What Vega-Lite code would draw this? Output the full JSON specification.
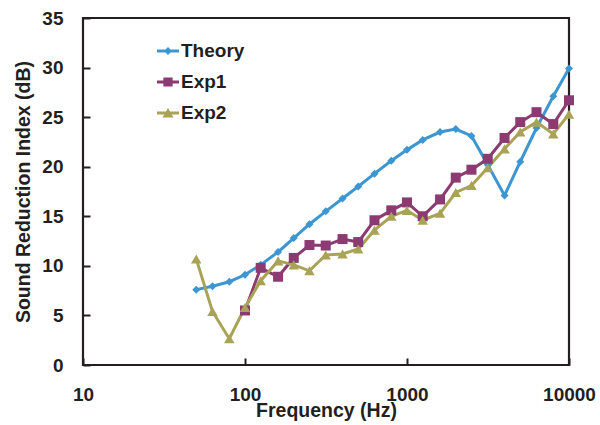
{
  "$schema": "https://vega.github.io/schema/vega-lite/v6.json",
  "autosize": {"type": "none"},
  "width": 486,
  "height": 347,
  "padding": {"left": 83, "top": 18, "right": 31, "bottom": 60},
  "background": "white",
  "config": {
    "view": {"stroke": "#231f20", "strokeWidth": 2.2},
    "font": "Liberation Sans",
    "axis": {
      "labelFont": "Liberation Sans",
      "labelFontSize": 19,
      "labelFontWeight": "bold",
      "labelColor": "#231f20",
      "titleFont": "Liberation Sans",
      "titleFontSize": 19.5,
      "titleFontWeight": "bold",
      "titleColor": "#231f20",
      "domain": false,
      "grid": false,
      "tickColor": "#231f20",
      "tickWidth": 2,
      "tickSize": -7,
      "labelFlush": false
    }
  },
  "data": {
    "values": [
      {"f": 50, "s": "Theory", "v": 7.6},
      {"f": 63, "s": "Theory", "v": 7.95},
      {"f": 80, "s": "Theory", "v": 8.4},
      {"f": 100, "s": "Theory", "v": 9.1},
      {"f": 125, "s": "Theory", "v": 10.1},
      {"f": 160, "s": "Theory", "v": 11.4},
      {"f": 200, "s": "Theory", "v": 12.8},
      {"f": 250, "s": "Theory", "v": 14.2},
      {"f": 315, "s": "Theory", "v": 15.5},
      {"f": 400, "s": "Theory", "v": 16.8},
      {"f": 500, "s": "Theory", "v": 18.0},
      {"f": 630, "s": "Theory", "v": 19.3},
      {"f": 800, "s": "Theory", "v": 20.6},
      {"f": 1000, "s": "Theory", "v": 21.7},
      {"f": 1250, "s": "Theory", "v": 22.7},
      {"f": 1600, "s": "Theory", "v": 23.5},
      {"f": 2000, "s": "Theory", "v": 23.8},
      {"f": 2500, "s": "Theory", "v": 23.1},
      {"f": 3150, "s": "Theory", "v": 20.2},
      {"f": 4000, "s": "Theory", "v": 17.1},
      {"f": 5000, "s": "Theory", "v": 20.5},
      {"f": 6300, "s": "Theory", "v": 23.9},
      {"f": 8000, "s": "Theory", "v": 27.1},
      {"f": 10000, "s": "Theory", "v": 29.9},
      {"f": 100, "s": "Exp1", "v": 5.5},
      {"f": 125, "s": "Exp1", "v": 9.8},
      {"f": 160, "s": "Exp1", "v": 8.9},
      {"f": 200, "s": "Exp1", "v": 10.8},
      {"f": 250, "s": "Exp1", "v": 12.1},
      {"f": 315, "s": "Exp1", "v": 12.05},
      {"f": 400, "s": "Exp1", "v": 12.7},
      {"f": 500, "s": "Exp1", "v": 12.4},
      {"f": 630, "s": "Exp1", "v": 14.6},
      {"f": 800, "s": "Exp1", "v": 15.6},
      {"f": 1000, "s": "Exp1", "v": 16.4},
      {"f": 1250, "s": "Exp1", "v": 15.0},
      {"f": 1600, "s": "Exp1", "v": 16.7},
      {"f": 2000, "s": "Exp1", "v": 18.9},
      {"f": 2500, "s": "Exp1", "v": 19.7},
      {"f": 3150, "s": "Exp1", "v": 20.8},
      {"f": 4000, "s": "Exp1", "v": 22.9},
      {"f": 5000, "s": "Exp1", "v": 24.5},
      {"f": 6300, "s": "Exp1", "v": 25.5},
      {"f": 8000, "s": "Exp1", "v": 24.3},
      {"f": 10000, "s": "Exp1", "v": 26.7},
      {"f": 50, "s": "Exp2", "v": 10.7},
      {"f": 63, "s": "Exp2", "v": 5.4},
      {"f": 80, "s": "Exp2", "v": 2.65},
      {"f": 100, "s": "Exp2", "v": 5.8},
      {"f": 125, "s": "Exp2", "v": 8.5},
      {"f": 160, "s": "Exp2", "v": 10.5},
      {"f": 200, "s": "Exp2", "v": 10.1},
      {"f": 250, "s": "Exp2", "v": 9.5},
      {"f": 315, "s": "Exp2", "v": 11.1},
      {"f": 400, "s": "Exp2", "v": 11.2},
      {"f": 500, "s": "Exp2", "v": 11.7},
      {"f": 630, "s": "Exp2", "v": 13.6},
      {"f": 800, "s": "Exp2", "v": 15.0},
      {"f": 1000, "s": "Exp2", "v": 15.6},
      {"f": 1250, "s": "Exp2", "v": 14.6},
      {"f": 1600, "s": "Exp2", "v": 15.3},
      {"f": 2000, "s": "Exp2", "v": 17.4},
      {"f": 2500, "s": "Exp2", "v": 18.1},
      {"f": 3150, "s": "Exp2", "v": 19.9},
      {"f": 4000, "s": "Exp2", "v": 21.8},
      {"f": 5000, "s": "Exp2", "v": 23.5},
      {"f": 6300, "s": "Exp2", "v": 24.5},
      {"f": 8000, "s": "Exp2", "v": 23.3},
      {"f": 10000, "s": "Exp2", "v": 25.3}
    ]
  },
  "encoding": {
    "x": {
      "field": "f",
      "type": "quantitative",
      "scale": {"type": "log", "domain": [10, 10000], "nice": false},
      "axis": {"title": "Frequency (Hz)", "values": [10, 100, 1000, 10000], "format": "d", "labelPadding": 27, "titlePadding": -3}
    },
    "y": {
      "field": "v",
      "type": "quantitative",
      "scale": {"domain": [0, 35], "nice": false},
      "axis": {"title": "Sound Reduction Index (dB)", "values": [0, 5, 10, 15, 20, 25, 30, 35], "labelPadding": 27, "titlePadding": 8}
    }
  },
  "layer": [
    {
      "mark": {"type": "line", "strokeWidth": 3},
      "encoding": {
        "color": {
          "field": "s",
          "type": "nominal",
          "scale": {"domain": ["Theory", "Exp1", "Exp2"], "range": ["#3b96d2", "#8c3b72", "#a9a356"]},
          "legend": {
            "orient": "none",
            "legendX": 74,
            "legendY": 22,
            "title": null,
            "padding": 0,
            "labelFont": "Liberation Sans",
            "labelFontSize": 19,
            "labelFontWeight": "bold",
            "labelColor": "#231f20",
            "labelOffset": 2,
            "symbolStrokeWidth": 0,
            "rowPadding": 10
          }
        }
      }
    },
    {
      "transform": [{"filter": "datum.s === 'Theory'"}],
      "mark": {"type": "point", "filled": true, "opacity": 1, "strokeWidth": 0, "shape": "diamond", "size": 64, "color": "#3b96d2"}
    },
    {
      "transform": [{"filter": "datum.s === 'Exp1'"}],
      "mark": {"type": "point", "filled": true, "opacity": 1, "strokeWidth": 0, "shape": "square", "size": 100, "color": "#8c3b72"}
    },
    {
      "transform": [{"filter": "datum.s === 'Exp2'"}],
      "mark": {"type": "point", "filled": true, "opacity": 1, "strokeWidth": 0, "shape": "triangle-up", "size": 110, "color": "#a9a356"}
    },
    {
      "transform": [{"filter": "datum.f < 0"}],
      "mark": {"type": "point", "filled": true, "opacity": 1, "strokeWidth": 0},
      "encoding": {
        "fill": {
          "field": "s",
          "type": "nominal",
          "scale": {"domain": ["Theory", "Exp1", "Exp2"], "range": ["#3b96d2", "#8c3b72", "#a9a356"]}
        },
        "shape": {
          "field": "s",
          "type": "nominal",
          "scale": {"domain": ["Theory", "Exp1", "Exp2"], "range": ["M-1,-0.13L1,-0.13L1,0.13L-1,0.13ZM0,-0.36L0.36,0L0,0.36L-0.36,0Z", "M-1,-0.13L1,-0.13L1,0.13L-1,0.13ZM-0.42,-0.42L0.42,-0.42L0.42,0.42L-0.42,0.42Z", "M-1,-0.13L1,-0.13L1,0.13L-1,0.13ZM0,-0.45L0.5,0.4L-0.5,0.4Z"]}
        },
        "size": {
          "field": "s",
          "type": "nominal",
          "scale": {"domain": ["Theory", "Exp1", "Exp2"], "range": [484, 484, 484]}
        }
      }
    }
  ]
}
